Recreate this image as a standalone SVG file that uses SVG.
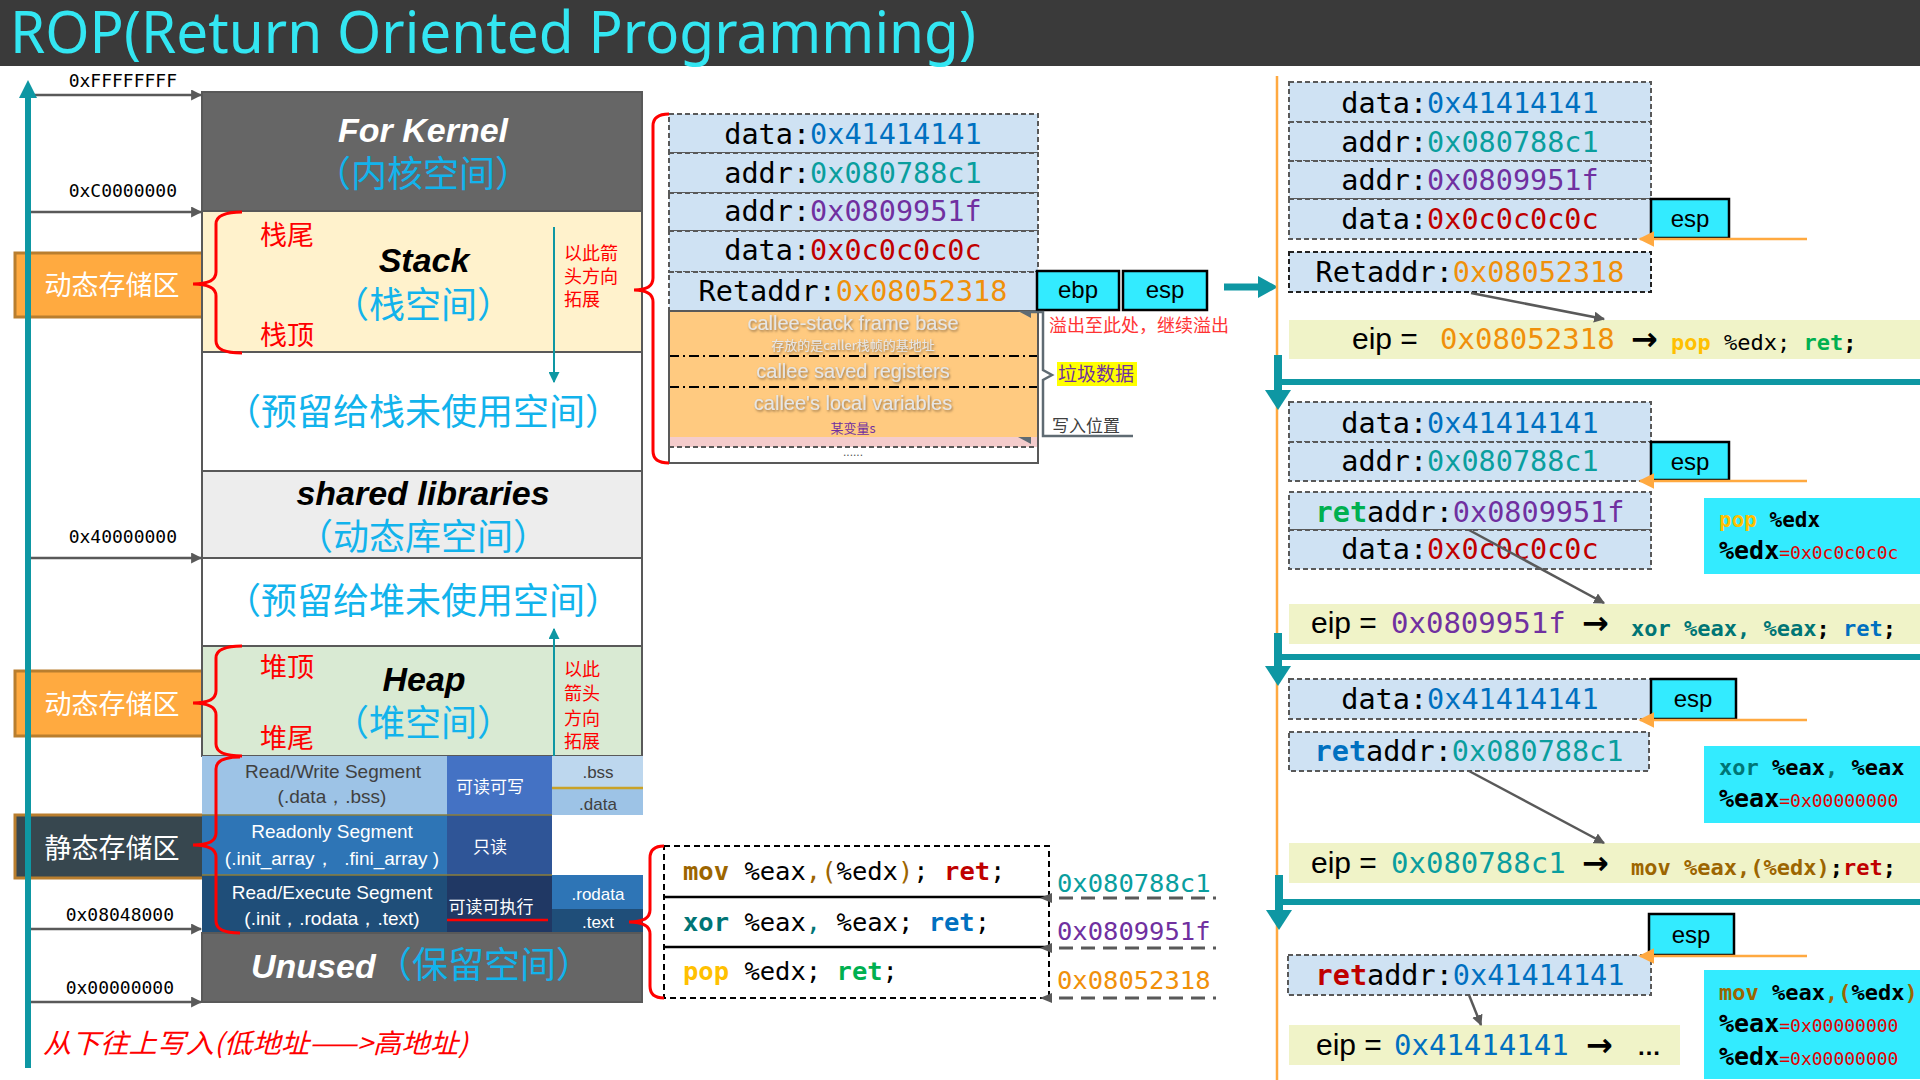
<svg xmlns="http://www.w3.org/2000/svg" width="1920" height="1080" viewBox="0 0 1920 1080">
<style>
.mono{font-family:"DejaVu Sans Mono","Liberation Mono",monospace}
.sans{font-family:"Liberation Sans",Arial,sans-serif}
.cjk{font-family:"Noto Sans CJK SC","Liberation Sans",sans-serif}
.bi{font-family:"Liberation Sans",Arial,sans-serif;font-weight:bold;font-style:italic;font-size:34px}
.cy{fill:#12B3EC;font-size:36px;text-anchor:middle}
.redl{fill:#FF0000;font-size:27px}
.note{fill:#FF0000;font-size:18px}
.addr{font-family:"DejaVu Sans Mono","Liberation Mono",monospace;font-size:18px;fill:#000;text-anchor:end}
.area{stroke:#595959;stroke-width:2}
.cell{fill:#CFE2F3;stroke:#595959;stroke-width:2;stroke-dasharray:5 3}
.cellk{fill:#CFE2F3;stroke:#222;stroke-width:2;stroke-dasharray:5 3}
.row{font-family:"DejaVu Sans Mono","Liberation Mono",monospace;font-size:28.5px;fill:#000;text-anchor:middle}
.cb{fill:#33EBFF;stroke:#000;stroke-width:2.5}
.cbt{font-family:"Liberation Sans",Arial,sans-serif;font-size:24px;fill:#000;text-anchor:middle}
.info{fill:#33EBFF}
.band{fill:#F0F3C8}
.eip{font-family:"Liberation Sans",Arial,sans-serif;font-size:30px;fill:#000}
.arr{font-family:"DejaVu Sans",sans-serif;font-size:32px;font-weight:bold;fill:#000}
.code{font-family:"DejaVu Sans Mono","Liberation Mono",monospace;font-size:22px;font-weight:bold}
.big{font-family:"DejaVu Sans Mono","Liberation Mono",monospace;font-size:29px}
.gad{font-family:"DejaVu Sans Mono","Liberation Mono",monospace;font-size:25.5px;fill:#000}
.seg{font-family:"Liberation Sans",Arial,sans-serif;font-size:19px;text-anchor:middle}
.segc{font-family:"Noto Sans CJK SC",sans-serif;font-size:17px;fill:#fff;text-anchor:middle}
.sec{font-family:"Liberation Sans",Arial,sans-serif;font-size:17px;text-anchor:middle}
.fr{font-family:"Liberation Sans",Arial,sans-serif;font-size:20px;fill:#E6E6E6;text-anchor:middle;filter:url(#sh)}
.brace{fill:none;stroke:#FF0000;stroke-width:3}
.b{fill:#0070C0}.t{fill:#0A9E9E}.p{fill:#7030A0}.r{fill:#C00000}.o{fill:#F0900A}.g{fill:#00B050}.y{fill:#FFC000}.br{fill:#9C6500}.x{fill:#007575}.k{fill:#000}
.tealbar{stroke:#0E97A3;stroke-width:6}
.esparr{stroke:#FFA940;stroke-width:2.5}
.gray{stroke:#595959;stroke-width:2.5;fill:none}
</style>
<defs>
<filter id="sh" x="-10%" y="-30%" width="120%" height="160%">
<feDropShadow dx="1" dy="1.5" stdDeviation="0.8" flood-color="#8a6a40" flood-opacity="0.9"/>
</filter>
<marker id="ag" viewBox="0 0 10 10" refX="9" refY="5" markerWidth="11" markerHeight="11" markerUnits="userSpaceOnUse" orient="auto">
<path d="M0,0 L10,5 L0,10 z" fill="#595959"/>
</marker>
<marker id="at" viewBox="0 0 10 10" refX="9" refY="5" markerWidth="11" markerHeight="11" markerUnits="userSpaceOnUse" orient="auto">
<path d="M0,0 L10,5 L0,10 z" fill="#0E97A3"/>
</marker>
<marker id="ao" viewBox="0 0 10 10" refX="9" refY="5" markerWidth="16" markerHeight="16" markerUnits="userSpaceOnUse" orient="auto">
<path d="M0,0 L10,5 L0,10 z" fill="#FFA940"/>
</marker>
</defs>
<rect x="0" y="0" width="1920" height="1080" fill="#FFFFFF"/>

<g id="title">
<rect x="0" y="0" width="1920" height="66" fill="#3A3A3A"/>
<text x="10" y="53" font-family="Noto Sans, Open Sans, sans-serif" font-size="58" fill="#33E6F2" textLength="966" lengthAdjust="spacingAndGlyphs">ROP(Return Oriented Programming)</text>
</g>

<g id="dyn-store-1">
<rect x="15" y="253" width="193" height="64" fill="#FFAA40" stroke="#B97E2E" stroke-width="3"/>
<text class="cjk" x="112" y="295" font-size="27" fill="#fff" text-anchor="middle">动态存储区</text>
</g>
<g id="dyn-store-2">
<rect x="15" y="671" width="193" height="65" fill="#FFAA40" stroke="#B97E2E" stroke-width="3"/>
<text class="cjk" x="112" y="714" font-size="27" fill="#fff" text-anchor="middle">动态存储区</text>
</g>
<g id="static-store">
<rect x="15" y="815" width="190" height="63" fill="#37474F" stroke="#B97E2E" stroke-width="3"/>
<text class="cjk" x="112" y="858" font-size="27" fill="#fff" text-anchor="middle">静态存储区</text>
</g>

<g id="addr-labels">
<text class="addr" x="177" y="87">0xFFFFFFFF</text>
<text class="addr" x="177" y="197">0xC0000000</text>
<text class="addr" x="177" y="543">0x40000000</text>
<text class="addr" x="174" y="921">0x08048000</text>
<text class="addr" x="174" y="994">0x00000000</text>
</g>

<g id="kernel">
<rect class="area" x="202" y="92" width="440" height="119" fill="#666666"/>
<text class="bi" x="423" y="142" fill="#fff" text-anchor="middle">For Kernel</text>
<text class="cjk cy" x="423" y="187">（内核空间）</text>
</g>
<g id="stack">
<rect class="area" x="202" y="211" width="440" height="141" fill="#FFF2CC"/>
<text class="cjk redl" x="260" y="245">栈尾</text>
<text class="cjk redl" x="260" y="345">栈顶</text>
<text class="bi" x="424" y="272" fill="#000" text-anchor="middle">Stack</text>
<text class="cjk cy" x="423" y="318">（栈空间）</text>
<text class="cjk note"><tspan x="564" y="260">以此箭</tspan><tspan x="564" y="283">头方向</tspan><tspan x="564" y="306">拓展</tspan></text>
</g>
<g id="stack-reserved">
<rect class="area" x="202" y="352" width="440" height="119" fill="#FFFFFF"/>
<text class="cjk cy" x="423" y="425">（预留给栈未使用空间）</text>
</g>
<g id="shared-libs">
<rect class="area" x="202" y="471" width="440" height="87" fill="#EDEDED"/>
<text class="bi" x="423" y="505" fill="#000" text-anchor="middle">shared libraries</text>
<text class="cjk cy" x="423" y="550">（动态库空间）</text>
</g>
<g id="heap-reserved">
<rect class="area" x="202" y="558" width="440" height="88" fill="#FFFFFF"/>
<text class="cjk cy" x="423" y="614">（预留给堆未使用空间）</text>
</g>
<g id="heap">
<rect class="area" x="202" y="646" width="440" height="110" fill="#D9EAD3"/>
<text class="cjk redl" x="260" y="677">堆顶</text>
<text class="cjk redl" x="260" y="748">堆尾</text>
<text class="bi" x="424" y="691" fill="#000" text-anchor="middle">Heap</text>
<text class="cjk cy" x="423" y="736">（堆空间）</text>
<text class="cjk note"><tspan x="564" y="676">以此</tspan><tspan x="564" y="700">箭头</tspan><tspan x="564" y="725">方向</tspan><tspan x="564" y="748">拓展</tspan></text>
</g>
<g id="rw-segment">
<rect x="202" y="756" width="245" height="59" fill="#9DC3E6"/>
<rect x="447" y="756" width="105" height="59" fill="#4472C4"/>
<rect x="552" y="756" width="91" height="32" fill="#BDD7EE"/>
<rect x="552" y="788" width="91" height="27" fill="#9DC3E6"/>
<line x1="552" y1="788" x2="643" y2="788" stroke="#C9A227" stroke-width="2.5"/>
<text class="seg" x="333" y="778" fill="#404040">Read/Write Segment</text>
<text class="seg" x="332" y="803" fill="#404040">(.data，.bss)</text>
<text class="segc" x="490" y="793">可读可写</text>
<text class="sec" x="598" y="778" fill="#404040">.bss</text>
<text class="sec" x="598" y="810" fill="#404040">.data</text>
</g>
<g id="ro-segment">
<rect x="202" y="815" width="245" height="60" fill="#2E75B6"/>
<rect x="447" y="815" width="105" height="60" fill="#2F5597"/>
<text class="seg" x="332" y="838" fill="#fff">Readonly Segment</text>
<text class="seg" x="332" y="865" fill="#fff" xml:space="preserve">(.init_array，  .fini_array )</text>
<text class="segc" x="490" y="853">只读</text>
</g>
<g id="re-segment">
<rect x="202" y="875" width="245" height="58" fill="#1F4E79"/>
<rect x="447" y="875" width="105" height="58" fill="#203864"/>
<rect x="552" y="875" width="91" height="34" fill="#2E75B6"/>
<rect x="552" y="909" width="91" height="24" fill="#1F4E79"/>
<text class="seg" x="332" y="899" fill="#fff">Read/Execute Segment</text>
<text class="seg" x="332" y="925" fill="#fff">(.init，.rodata，.text)</text>
<text class="segc" x="491" y="913">可读可执行</text>
<line x1="447" y1="920" x2="548" y2="920" stroke="#FF0000" stroke-width="2.5"/>
<text class="sec" x="598" y="900" fill="#fff">.rodata</text>
<text class="sec" x="598" y="928" fill="#fff">.text</text>
<line x1="202" y1="815" x2="552" y2="815" stroke="#8C7E3A" stroke-width="1.5"/>
<line x1="202" y1="875" x2="552" y2="875" stroke="#8C7E3A" stroke-width="1.5"/>
</g>
<g id="unused">
<rect class="area" x="202" y="933" width="440" height="69" fill="#666666"/>
<text class="bi" x="251" y="978" fill="#fff">Unused</text>
<text class="cjk" x="376" y="978" font-size="36" fill="#12B3EC">（保留空间）</text>
</g>
<g id="braces-left">
<path class="brace" d="M242,212 Q216,212 216,224 L216,272 Q216,284 193,284 Q216,284 216,296 L216,341 Q216,353 242,353"/>
<path class="brace" d="M242,646 Q216,646 216,658 L216,691 Q216,703 193,703 Q216,703 216,715 L216,744 Q216,756 242,756"/>
<path class="brace" d="M240,757 Q216,757 216,769 L216,833 Q216,845 193,845 Q216,845 216,857 L216,921 Q216,933 240,933"/>
</g>
<g id="write-direction">
<text class="cjk" x="43" y="1053" font-size="27" font-style="italic" fill="#FF0000" textLength="425" lengthAdjust="spacingAndGlyphs">从下往上写入(低地址——&gt;高地址)</text>
</g>

<g id="stack-dump">
<rect class="cell" x="669" y="114" width="369" height="39"/>
<rect class="cell" x="669" y="153" width="369" height="40"/>
<rect class="cell" x="669" y="193" width="369" height="38"/>
<rect class="cell" x="669" y="231" width="369" height="41"/>
<rect class="cell" x="669" y="272" width="369" height="39"/>
<text class="row" x="853" y="144">data:<tspan class="b">0x41414141</tspan></text>
<text class="row" x="853" y="183">addr:<tspan class="t">0x080788c1</tspan></text>
<text class="row" x="853" y="221">addr:<tspan class="p">0x0809951f</tspan></text>
<text class="row" x="853" y="260">data:<tspan class="r">0x0c0c0c0c</tspan></text>
<text class="row" x="853" y="301">Retaddr:<tspan class="o">0x08052318</tspan></text>
<rect x="669" y="311" width="369" height="126" fill="#FFCA80"/>
<rect x="669" y="437" width="369" height="10" fill="#F4CCCC"/>
<line x1="669" y1="356" x2="1038" y2="356" stroke="#000" stroke-width="2" stroke-dasharray="10 4 2 4"/>
<line x1="669" y1="387" x2="1038" y2="387" stroke="#000" stroke-width="2" stroke-dasharray="10 4 2 4"/>
<line x1="669" y1="447" x2="1038" y2="447" stroke="#595959" stroke-width="2" stroke-dasharray="5 3"/>
<rect x="669" y="311" width="369" height="152" fill="none" stroke="#595959" stroke-width="2"/>
<text class="fr" x="853" y="330">callee-stack frame base</text>
<text class="cjk" x="853" y="350" font-size="13" fill="#E6E6E6" text-anchor="middle" filter="url(#sh)">存放的是caller栈帧的基地址</text>
<text class="fr" x="853" y="378">callee saved registers</text>
<text class="fr" x="853" y="410">callee's local variables</text>
<text class="cjk" x="853" y="433" font-size="13" fill="#7030A0" text-anchor="middle">某变量s</text>
<text class="sans" x="853" y="456" font-size="12" fill="#555" text-anchor="middle">......</text>
<path class="brace" d="M669,114 Q653,114 653,126 L653,278 Q653,290 634,290 Q653,290 653,302 L653,451 Q653,463 669,463"/>
</g>
<g id="ebp">
<rect class="cb" x="1037" y="271" width="82" height="39"/>
<text class="cbt" x="1078" y="298">ebp</text>
</g>
<g id="esp-0">
<rect class="cb" x="1123" y="271" width="84" height="39"/>
<text class="cbt" x="1165" y="298">esp</text>
</g>
<g id="dump-notes">
<path d="M1030,312 H1043 V370 L1052,375 L1043,380 V436 H1133" fill="none" stroke="#5F6B73" stroke-width="2.5"/>
<polygon points="1018,311 1031,311 1031,318" fill="#5F6B73"/>
<polygon points="1018,437 1031,437 1031,444" fill="#5F6B73"/>
<text class="cjk" x="1049" y="332" font-size="18" fill="#FF3333">溢出至此处，继续溢出</text>
<rect x="1057" y="362" width="80" height="24" fill="#FFFF00"/>
<text class="cjk" x="1058" y="381" font-size="19" fill="#7030A0">垃圾数据</text>
<text class="cjk" x="1052" y="432" font-size="17" fill="#404040">写入位置</text>
</g>

<g id="gadgets">
<rect x="664" y="846" width="385" height="152" fill="#fff" stroke="#000" stroke-width="2" stroke-dasharray="6 4"/>
<line x1="664" y1="897" x2="1049" y2="897" stroke="#000" stroke-width="2.5"/>
<line x1="664" y1="947" x2="1049" y2="947" stroke="#000" stroke-width="2.5"/>
<text class="gad" x="683" y="880" xml:space="preserve"><tspan class="br" font-weight="bold">mov</tspan> %eax<tspan class="br">,(</tspan>%edx<tspan class="br">)</tspan>; <tspan class="r" font-weight="bold">ret</tspan>;</text>
<text class="gad" x="683" y="931" xml:space="preserve"><tspan class="x" font-weight="bold">xor</tspan> %eax<tspan class="x">,</tspan> %eax; <tspan class="b" font-weight="bold">ret</tspan>;</text>
<text class="gad" x="683" y="980" xml:space="preserve"><tspan class="y" font-weight="bold">pop</tspan> %edx; <tspan class="g" font-weight="bold">ret</tspan>;</text>
<path class="brace" d="M664,846 Q650,846 650,858 L650,910 Q650,922 629,922 Q650,922 650,934 L650,986 Q650,998 664,998"/>
<text class="gad t" x="1057" y="892">0x080788c1</text>
<text class="gad p" x="1057" y="940">0x0809951f</text>
<text class="gad o" x="1057" y="989">0x08052318</text>
<polygon points="1040,898 1052,893 1052,903" fill="#595959"/>
<polygon points="1040,948 1052,943 1052,953" fill="#595959"/>
<polygon points="1040,998 1052,993 1052,1003" fill="#595959"/>
<line x1="1059" y1="898" x2="1216" y2="898" stroke="#595959" stroke-width="3" stroke-dasharray="14 8"/>
<line x1="1059" y1="948" x2="1216" y2="948" stroke="#595959" stroke-width="3" stroke-dasharray="14 8"/>
<line x1="1059" y1="998" x2="1216" y2="998" stroke="#595959" stroke-width="3" stroke-dasharray="14 8"/>
</g>

<g id="step1">
<rect class="cell" x="1289" y="82" width="362" height="40"/>
<rect class="cell" x="1289" y="122" width="362" height="39"/>
<rect class="cell" x="1289" y="161" width="362" height="38"/>
<rect class="cell" x="1289" y="199" width="362" height="40"/>
<text class="row" x="1470" y="113">data:<tspan class="b">0x41414141</tspan></text>
<text class="row" x="1470" y="152">addr:<tspan class="t">0x080788c1</tspan></text>
<text class="row" x="1470" y="190">addr:<tspan class="p">0x0809951f</tspan></text>
<text class="row" x="1470" y="229">data:<tspan class="r">0x0c0c0c0c</tspan></text>
<rect class="cb" x="1651" y="199" width="78" height="39"/>
<text class="cbt" x="1690" y="227" font-size="23">esp</text>
<rect class="cellk" x="1289" y="252" width="362" height="40"/>
<text class="row" x="1470" y="282">Retaddr:<tspan class="o">0x08052318</tspan></text>
<rect class="band" x="1289" y="320" width="631" height="39"/>
<text class="eip" x="1352" y="349">eip =</text>
<text class="big o" x="1440" y="349">0x08052318</text>
<text class="arr" x="1631" y="350">→</text>
<text class="code" x="1671" y="350" xml:space="preserve"><tspan class="y">pop</tspan><tspan class="k" font-weight="normal"> %edx; </tspan><tspan class="g">ret</tspan><tspan class="k">;</tspan></text>
</g>

<g id="step2">
<rect class="cell" x="1289" y="402" width="362" height="40"/>
<rect class="cell" x="1289" y="442" width="362" height="39"/>
<text class="row" x="1470" y="433">data:<tspan class="b">0x41414141</tspan></text>
<text class="row" x="1470" y="471">addr:<tspan class="t">0x080788c1</tspan></text>
<rect class="cb" x="1651" y="442" width="78" height="38"/>
<text class="cbt" x="1690" y="470" font-size="23">esp</text>
<rect class="cell" x="1289" y="492" width="362" height="38"/>
<rect class="cell" x="1289" y="530" width="362" height="39"/>
<text class="row" x="1470" y="522"><tspan class="g" font-weight="bold">ret</tspan>addr:<tspan class="p">0x0809951f</tspan></text>
<text class="row" x="1470" y="559">data:<tspan class="r">0x0c0c0c0c</tspan></text>
<rect class="info" x="1704" y="498" width="216" height="76"/>
<text class="mono" x="1719" y="527" font-size="21" font-weight="bold" xml:space="preserve"><tspan class="y">pop</tspan><tspan class="k"> %edx</tspan></text>
<text class="mono" x="1719" y="559" font-weight="bold"><tspan class="k" font-size="25">%edx</tspan><tspan fill="#E00000" font-size="18" font-weight="normal">=0x0c0c0c0c</tspan></text>
<rect class="band" x="1289" y="604" width="631" height="40"/>
<text class="eip" x="1311" y="633">eip =</text>
<text class="big p" x="1391" y="633">0x0809951f</text>
<text class="arr" x="1582" y="634">→</text>
<text class="code" x="1631" y="636" xml:space="preserve"><tspan class="x">xor %eax, %eax</tspan><tspan class="k">; </tspan><tspan class="b">ret</tspan><tspan class="k">;</tspan></text>
</g>

<g id="step3">
<rect class="cell" x="1289" y="679" width="362" height="40"/>
<text class="row" x="1470" y="709">data:<tspan class="b">0x41414141</tspan></text>
<rect class="cb" x="1651" y="679" width="85" height="40"/>
<text class="cbt" x="1693" y="707" font-size="23">esp</text>
<rect class="cell" x="1289" y="732" width="360" height="39"/>
<text class="row" x="1469" y="761"><tspan class="b" font-weight="bold">ret</tspan>addr:<tspan class="t">0x080788c1</tspan></text>
<rect class="info" x="1704" y="746" width="216" height="77"/>
<text class="mono" x="1719" y="775" font-size="22" font-weight="bold" xml:space="preserve"><tspan class="x">xor</tspan><tspan class="k"> %eax</tspan><tspan class="x">,</tspan><tspan class="k"> %eax</tspan></text>
<text class="mono" x="1719" y="807" font-weight="bold"><tspan class="k" font-size="25">%eax</tspan><tspan fill="#E00000" font-size="18" font-weight="normal">=0x00000000</tspan></text>
<rect class="band" x="1289" y="843" width="631" height="40"/>
<text class="eip" x="1311" y="873">eip =</text>
<text class="big t" x="1391" y="873">0x080788c1</text>
<text class="arr" x="1582" y="874">→</text>
<text class="code" x="1631" y="875"><tspan class="br">mov %eax,(%edx)</tspan><tspan class="k">;</tspan><tspan class="r">ret</tspan><tspan class="k">;</tspan></text>
</g>

<g id="step4">
<rect class="cb" x="1649" y="914" width="85" height="41"/>
<text class="cbt" x="1691" y="943" font-size="23">esp</text>
<rect class="cell" x="1288" y="955" width="363" height="40"/>
<text class="row" x="1470" y="985"><tspan class="r" font-weight="bold">ret</tspan>addr:<tspan class="b">0x41414141</tspan></text>
<rect class="band" x="1289" y="1025" width="391" height="40"/>
<text class="eip" x="1316" y="1055">eip =</text>
<text class="big b" x="1394" y="1055">0x41414141</text>
<text class="arr" x="1586" y="1056">→</text>
<text class="sans" x="1637" y="1055" font-size="24" font-weight="bold" fill="#000">…</text>
<rect class="info" x="1704" y="970" width="216" height="109"/>
<text class="mono" x="1719" y="1000" font-size="22" font-weight="bold" xml:space="preserve"><tspan class="br">mov</tspan><tspan class="k"> %eax</tspan><tspan class="br">,(</tspan><tspan class="k">%edx</tspan><tspan class="br">)</tspan></text>
<text class="mono" x="1719" y="1032" font-weight="bold"><tspan class="k" font-size="25">%eax</tspan><tspan fill="#E00000" font-size="18" font-weight="normal">=0x00000000</tspan></text>
<text class="mono" x="1719" y="1065" font-weight="bold"><tspan class="k" font-size="25">%edx</tspan><tspan fill="#E00000" font-size="18" font-weight="normal">=0x00000000</tspan></text>
</g>

<g id="connectors">
<line x1="31" y1="95" x2="201" y2="95" stroke="#595959" stroke-width="2.5" marker-end="url(#ag)"/>
<line x1="31" y1="212" x2="201" y2="212" stroke="#595959" stroke-width="2.5" marker-end="url(#ag)"/>
<line x1="31" y1="558" x2="201" y2="558" stroke="#595959" stroke-width="2.5" marker-end="url(#ag)"/>
<line x1="31" y1="929" x2="201" y2="929" stroke="#595959" stroke-width="2.5" marker-end="url(#ag)"/>
<line x1="31" y1="1002" x2="201" y2="1002" stroke="#595959" stroke-width="2.5" marker-end="url(#ag)"/>
<line x1="28" y1="1068" x2="28" y2="94" stroke="#0E97A3" stroke-width="6"/>
<polygon points="28,80 19,98 37,98" fill="#0E97A3"/>
<line x1="554" y1="227" x2="554" y2="382" stroke="#0E97A3" stroke-width="2" marker-end="url(#at)"/>
<line x1="554" y1="756" x2="554" y2="629" stroke="#0E97A3" stroke-width="2" marker-end="url(#at)"/>
<line x1="1224" y1="287" x2="1262" y2="287" stroke="#0E97A3" stroke-width="7"/>
<polygon points="1278,287 1258,276 1258,298" fill="#0E97A3"/>
<line x1="1277" y1="76" x2="1277" y2="1080" stroke="#FFA940" stroke-width="2.5"/>
<line class="tealbar" x1="1278" y1="382" x2="1920" y2="382"/>
<line class="tealbar" x1="1278" y1="657" x2="1920" y2="657"/>
<line class="tealbar" x1="1278" y1="902" x2="1920" y2="902"/>
<line x1="1278" y1="355" x2="1278" y2="393" stroke="#0E97A3" stroke-width="8"/>
<polygon points="1265,390 1291,390 1278,410" fill="#0E97A3"/>
<line x1="1278" y1="633" x2="1278" y2="669" stroke="#0E97A3" stroke-width="8"/>
<polygon points="1265,666 1291,666 1278,686" fill="#0E97A3"/>
<line x1="1279" y1="875" x2="1279" y2="913" stroke="#0E97A3" stroke-width="8"/>
<polygon points="1266,910 1292,910 1279,930" fill="#0E97A3"/>
<line class="esparr" x1="1807" y1="239" x2="1640" y2="239" marker-end="url(#ao)"/>
<line class="esparr" x1="1807" y1="481" x2="1640" y2="481" marker-end="url(#ao)"/>
<line class="esparr" x1="1807" y1="720" x2="1640" y2="720" marker-end="url(#ao)"/>
<line class="esparr" x1="1807" y1="956" x2="1640" y2="956" marker-end="url(#ao)"/>
<line class="gray" x1="1471" y1="293" x2="1604" y2="319" marker-end="url(#ag)"/>
<line class="gray" x1="1469" y1="530" x2="1604" y2="603" marker-end="url(#ag)"/>
<line class="gray" x1="1469" y1="771" x2="1604" y2="843" marker-end="url(#ag)"/>
<line class="gray" x1="1469" y1="995" x2="1481" y2="1025" marker-end="url(#ag)"/>
</g>
</svg>
